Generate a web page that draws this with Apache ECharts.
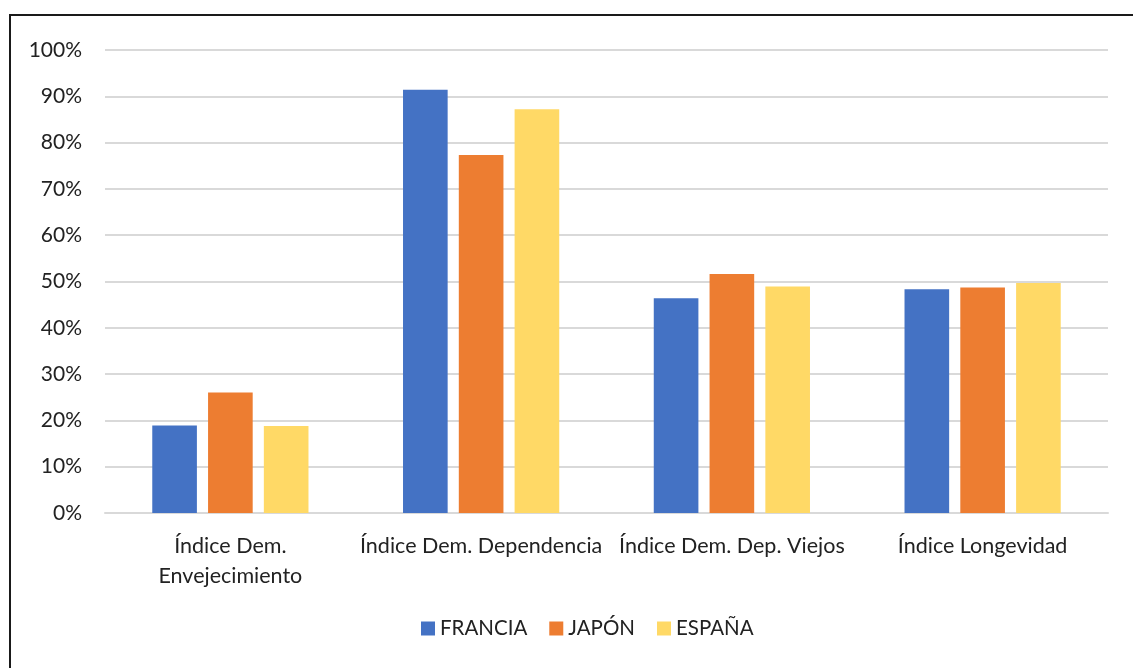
<!DOCTYPE html>
<html>
<head>
<meta charset="utf-8">
<script src="https://cdn.jsdelivr.net/npm/echarts@6/dist/echarts.min.js"></script>
<style>
  html, body { margin: 0; padding: 0; background: #fff; }
  #chart { width: 1133px; height: 668px; }
</style>
</head>
<body>
<div id="chart"></div>
<script>
const categories = ['Índice Dem. Envejecimiento', 'Índice Dem. Dependencia', 'Índice Dem. Dep. Viejos', 'Índice Longevidad']
const francia = [18.9, 91.4, 46.4, 48.3]
const japon = [26.0, 77.3, 51.6, 48.7]
const espana = [18.8, 87.2, 48.9, 49.7]
const yTicks = [0, 10, 20, 30, 40, 50, 60, 70, 80, 90, 100]

const font = 'Lato, "Noto Sans", sans-serif'
const chart = echarts.init(document.getElementById('chart'))

const bar = (name, data, color) => ({
  name,
  type: 'bar',
  data,
  barWidth: '17.8%',
  barGap: '25%',
  itemStyle: { color },
  emphasis: { disabled: true }
})

chart.setOption({
  animation: false,
  textStyle: { fontFamily: font },
  grid: { left: 105, right: 25, top: 50, bottom: 155 },
  legend: {
    bottom: 24,
    left: 416,
    itemWidth: 14,
    itemHeight: 14,
    itemGap: 22,
    icon: 'rect',
    textStyle: { fontSize: 20.5, color: '#222', fontFamily: font }
  },
  xAxis: {
    type: 'category',
    data: categories,
    axisTick: { show: false },
    axisLine: { lineStyle: { color: '#d9d9d9', width: 2 } },
    axisLabel: {
      fontSize: 21.5,
      color: '#222',
      margin: 18,
      lineHeight: 30,
      interval: 0,
      formatter: v => v === categories[0] ? 'Índice Dem.\nEnvejecimiento' : v
    }
  },
  yAxis: {
    type: 'value',
    min: yTicks[0],
    max: yTicks[yTicks.length - 1],
    interval: 10,
    axisLine: { show: false },
    axisTick: { show: false },
    splitLine: { lineStyle: { color: '#d9d9d9', width: 2 } },
    axisLabel: { fontSize: 21, color: '#222', margin: 23, formatter: v => v + '%' }
  },
  graphic: [
    { type: 'line', shape: { x1: 9, y1: 15, x2: 1133, y2: 15 }, style: { stroke: '#1a1a1a', lineWidth: 2 } },
    { type: 'line', shape: { x1: 10, y1: 14, x2: 10, y2: 668 }, style: { stroke: '#1a1a1a', lineWidth: 2 } }
  ],
  series: [
    bar('FRANCIA', francia, '#4472c4'),
    bar('JAPÓN', japon, '#ed7d31'),
    bar('ESPAÑA', espana, '#ffd966')
  ]
})
</script>
</body>
</html>
